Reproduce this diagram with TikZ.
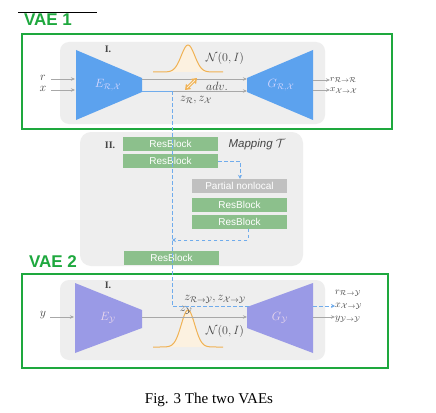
\documentclass[tikz,border=0pt]{standalone}
\usepackage{fontspec}
\setmainfont{Liberation Serif}
\setsansfont{Liberation Sans}
\usetikzlibrary{arrows.meta}
\definecolor{vaegreen}{RGB}{30,168,62}
\definecolor{encblue}{RGB}{92,162,238}
\definecolor{encpurple}{RGB}{154,154,230}
\definecolor{rbgreen}{RGB}{140,192,140}
\definecolor{bggray}{RGB}{238,238,238}
\definecolor{pngray}{RGB}{192,192,192}
\definecolor{dashblue}{RGB}{112,172,236}
\definecolor{curveorange}{RGB}{240,178,84}
\definecolor{arrowgray}{RGB}{168,168,168}
\definecolor{labgray}{RGB}{70,70,70}
\tikzset{
  vaebox/.style={draw=vaegreen, line width=2.2pt},
  vaelabel/.style={text=vaegreen, font=\sffamily\bfseries\fontsize{17}{19}\selectfont, inner sep=0pt},
  bgpanel/.style={fill=bggray, rounded corners=9pt},
  encshape/.style={fill=encblue},
  encshapeb/.style={fill=encpurple},
  netlabel/.style={text=white!85!blue, font=\fontsize{12}{14}\selectfont, inner sep=0pt},
  flow/.style={draw=arrowgray, line width=0.9pt, -{Stealth[length=4pt,width=3.5pt]}},
  dashflow/.style={draw=dashblue, line width=1pt, dash pattern=on 3.5pt off 2.5pt},
  rbbox/.style={fill=rbgreen, text=white, font=\sffamily\fontsize{10}{12}\selectfont, minimum width=95pt, minimum height=14pt, inner sep=0pt},
  pnbox/.style={rbbox, fill=pngray},
  mathlab/.style={text=labgray, font=\fontsize{12}{14}\selectfont, inner sep=0pt},
  outlab/.style={text=labgray, font=\fontsize{10}{12}\selectfont, inner sep=0pt, anchor=west},
  roman/.style={text=labgray, font=\bfseries\fontsize{10}{12}\selectfont, inner sep=0pt},
  gauss/.style={draw=curveorange, line width=1pt},
}
\begin{document}
\begin{tikzpicture}[x=1pt,y=-1pt]
\useasboundingbox[fill=white] (0,0) rectangle (436,412);
% top rule
\draw[line width=0.6pt] (18,12) -- (97,12);
% ================= VAE 1
\node[vaelabel] (v1lab) at (48,20) {VAE 1};
\fill[bgpanel] (60,42) rectangle (325,124);
\draw[vaebox] (22,34) rectangle (392,129);
\node[roman] (r1) at (108,49) {I.};
% encoder / decoder
\fill[encshape] (76,50) -- (142,78) -- (142,92) -- (76,120) -- cycle;
\fill[encshape] (247,78) -- (313,50) -- (313,120) -- (247,92) -- cycle;
\node[netlabel] (E1) at (108,85) {$E_{\mathcal{R},\mathcal{X}}$};
\node[netlabel] (G1) at (281,85) {$G_{\mathcal{R},\mathcal{X}}$};
\coordinate (e1t) at (142,79);
\coordinate (e1b) at (142,91);
\coordinate (g1t) at (247,79);
\coordinate (g1b) at (247,91);
\coordinate (split1) at (172,91);
% gaussian
\fill[curveorange!18] plot[domain=153:223, samples=80] (\x, {72-27*exp(-((\x-188)/9.5)^2)}) -- cycle;
\draw[gauss] plot[domain=153:223, samples=80] (\x, {72-27*exp(-((\x-188)/9.5)^2)});
\node[mathlab, font=\fontsize{13}{15}\selectfont] (N1) at (225,59) {$\mathcal{N}(0,I)$};
% latent arrows
\draw[flow] (e1t) -- (g1t);
\draw[draw=dashblue, line width=0.9pt] (e1b) -- (split1);
\draw[flow] (split1) -- (g1b);
% adversarial arrow
\coordinate (adva) at (185,90);
\coordinate (advb) at (197,78);
\draw[draw=curveorange, line width=3pt, {Triangle[length=5pt,width=7pt]}-{Triangle[length=5pt,width=7pt]}] (adva) -- (advb);
\draw[draw=curveorange!25, line width=1pt, shorten <=3pt, shorten >=3pt] (adva) -- (advb);
\node[mathlab, font=\fontsize{13}{15}\selectfont] (adv) at (217,86) {$adv.$};
\node[mathlab] (z1) at (196,100) {$z_{\mathcal{R}}, z_{\mathcal{X}}$};
% inputs
\node[mathlab] (rin) at (43,78) {$r$};
\node[mathlab] (xin) at (43,89) {$x$};
\coordinate (rinA) at (51,79);
\coordinate (xinA) at (51,90);
\coordinate (rinB) at (75,79);
\coordinate (xinB) at (75,90);
\draw[flow] (rinA) -- (rinB);
\draw[flow] (xinA) -- (xinB);
% outputs
\coordinate (o1a) at (313,80);
\coordinate (o1b) at (313,90);
\node[outlab, font=\fontsize{9.5}{11}\selectfont] (rout) at (330,80) {$r_{\mathcal{R}\to\mathcal{R}}$};
\node[outlab, font=\fontsize{9.5}{11}\selectfont] (xout) at (330,90.5) {$x_{\mathcal{X}\to\mathcal{X}}$};
\draw[flow] (o1a) -- (rout.west |- o1a);
\draw[flow] (o1b) -- (xout.west |- o1b);
% ================= Mapping
\fill[bgpanel, rounded corners=11pt] (80,132) rectangle (303,266);
\node[roman] (r2) at (110,145) {II.};
\node[rbbox] (rb1) at (170.5,144) {ResBlock};
\node[rbbox] (rb2) at (170.5,161) {ResBlock};
\node[text=labgray, font=\sffamily\itshape\fontsize{11.5}{13}\selectfont, inner sep=0pt] (mapT) at (257,145) {Mapping $\mathcal{T}$};
\node[pnbox] (pn) at (239.5,186) {Partial nonlocal};
\node[rbbox] (rb3) at (239.5,204.5) {ResBlock};
\node[rbbox] (rb4) at (239.5,221.5) {ResBlock};
\node[rbbox] (rb5) at (171.5,257.5) {ResBlock};
\coordinate (br1) at (240,161);
\coordinate (br2) at (248,240);
\coordinate (join) at (172,240);
\draw[dashflow, -{Stealth[length=4pt,width=4pt]}] (rb2.east) -- (br1) -- (br1 |- pn.north);
\draw[dashflow, -{Stealth[length=4pt,width=4pt]}] (rb4.south -| br2) -- (br2) -- (join);
% ================= VAE 2
\node[vaelabel] (v2lab) at (53,262) {VAE 2};
\fill[bgpanel] (60,280) rectangle (325,360);
\draw[vaebox] (22,274) rectangle (388,368);
\node[roman] (r3) at (108,285) {I.};
\fill[encshapeb] (75,283) -- (142,310) -- (142,328) -- (75,353) -- cycle;
\fill[encshapeb] (247,307) -- (313,283) -- (313,353) -- (247,328) -- cycle;
\node[netlabel, text=white!85!violet] (E2) at (108,318) {$E_{\mathcal{Y}}$};
\node[netlabel, text=white!85!violet] (G2) at (280,318) {$G_{\mathcal{Y}}$};
\coordinate (e2) at (142,317);
\coordinate (g2) at (247,317);
\fill[curveorange!18] plot[domain=153:223, samples=80] (\x, {347-37*exp(-((\x-188)/9.5)^2)}) -- cycle;
\draw[gauss] plot[domain=153:223, samples=80] (\x, {347-37*exp(-((\x-188)/9.5)^2)});
\node[mathlab, font=\fontsize{13}{15}\selectfont] (N2) at (225,331) {$\mathcal{N}(0,I)$};
\draw[flow] (e2) -- (g2);
\node[mathlab] (yin) at (43,315) {$y$};
\coordinate (yinA) at (50,317);
\coordinate (yinB) at (74,317);
\draw[flow] (yinA) -- (yinB);
\node[mathlab] (z2) at (215,299) {$z_{\mathcal{R}\to\mathcal{Y}}, z_{\mathcal{X}\to\mathcal{Y}}$};
\node[mathlab] (zy) at (186,310) {$z_{\mathcal{Y}}$};
% outputs
\node[outlab] (rout2) at (335,293) {$r_{\mathcal{R}\to\mathcal{Y}}$};
\node[outlab] (xout2) at (335,306) {$x_{\mathcal{X}\to\mathcal{Y}}$};
\node[outlab] (yout2) at (335,319) {$y_{\mathcal{Y}\to\mathcal{Y}}$};
\coordinate (o2b) at (313,306);
\coordinate (o2c) at (313,317);
\draw[dashflow, -{Stealth[length=4pt,width=4pt]}] (o2b) -- (xout2.west);
\draw[flow] (o2c) -- (yout2.west |- o2c);
% main dashed route
\coordinate (turn) at (172,306);
\coordinate (g2in) at (250,306);
\draw[dashflow] (split1) -- (turn) -- (g2in);
% caption
\node[font=\fontsize{15}{17}\selectfont, inner sep=0pt] (cap) at (209,400) {Fig. 3 The two VAEs};
\end{tikzpicture}
\end{document}
